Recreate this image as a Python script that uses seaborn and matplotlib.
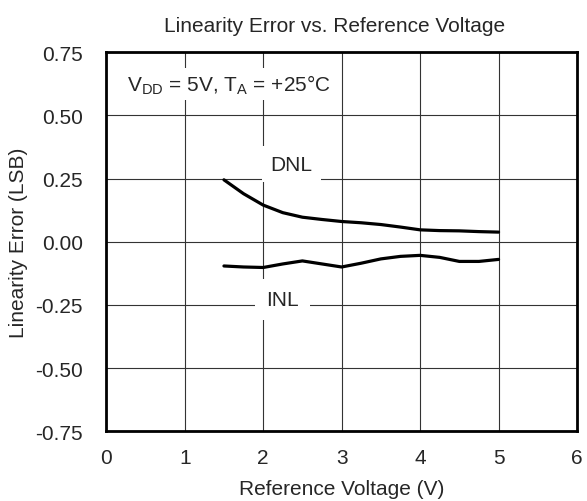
import matplotlib
matplotlib.use("Agg")
from matplotlib import pyplot as plt
import pandas as pd
import seaborn as sns

# valori
vref = [1.5, 1.75, 2.0, 2.25, 2.5, 2.75, 3.0, 3.25, 3.5, 3.75, 4.0, 4.25, 4.5, 4.75, 5.0]
dnl = [0.245, 0.19, 0.145, 0.115, 0.097, 0.088, 0.080, 0.075, 0.068, 0.058, 0.047, 0.044, 0.043, 0.040, 0.038]
inl = [-0.096, -0.100, -0.102, -0.088, -0.076, -0.088, -0.100, -0.085, -0.068, -0.058, -0.054, -0.062, -0.078, -0.078, -0.070]

x_ticks = [0, 1, 2, 3, 4, 5, 6]
y_ticks = [-0.75, -0.50, -0.25, 0.00, 0.25, 0.50, 0.75]

df = pd.DataFrame({"vref": vref * 2,
                   "err": dnl + inl,
                   "serie": ["DNL"] * len(vref) + ["INL"] * len(vref)})

sns.set_style("white")
plt.rcParams["font.family"] = ["Liberation Sans", "DejaVu Sans"]
fs = 15

fig = plt.figure(figsize=(5.87, 5.02), dpi=100)
ax = fig.add_axes([0.181, 0.139, 0.802, 0.755])

sns.lineplot(data=df, x="vref", y="err", units="serie", estimator=None,
             color="black", linewidth=2.3, ax=ax, zorder=3)

ax.set_xlim(0, 6)
ax.set_ylim(-0.75, 0.75)
ax.set_xticks(x_ticks)
ax.set_yticks(y_ticks)
ax.set_yticklabels([f"{v:.2f}" for v in y_ticks])
ax.grid(True, color="#333333", linewidth=0.8)
ax.tick_params(axis="x", length=0, labelsize=fs, pad=12)
ax.tick_params(axis="y", length=0, labelsize=fs, pad=17)
for s in ax.spines.values():
    s.set_linewidth(2)
    s.set_color("black")

ax.set_xlabel("Reference Voltage (V)", fontsize=fs, labelpad=9)
ax.set_ylabel("Linearity Error (LSB)", fontsize=fs, labelpad=5)
ax.set_title("Linearity Error vs. Reference Voltage", fontsize=fs, pad=15, x=0.485)

ax.text(0.27, 0.623, r"V$_{\mathregular{DD}}$ = 5V, T$_{\mathregular{A}}$ = +25°C", fontsize=fs,
        va="center", ha="left", zorder=4,
        bbox=dict(facecolor="white", edgecolor="none", pad=3))
ax.text(2.36, 0.307, "DNL", fontsize=fs, ha="center", va="center", zorder=4,
        bbox=dict(facecolor="white", edgecolor="none", pad=6))
ax.text(2.25, -0.23, "INL", fontsize=fs, ha="center", va="center", zorder=4,
        bbox=dict(facecolor="white", edgecolor="none", pad=8))

plt.savefig("out.png", dpi=100)
